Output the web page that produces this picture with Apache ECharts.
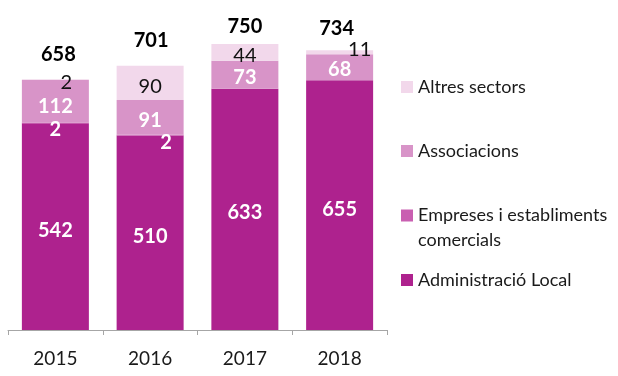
<!DOCTYPE html>
<html>
<head>
<meta charset="utf-8">
<script src="https://cdn.jsdelivr.net/npm/echarts@6/dist/echarts.min.js"></script>
<style>
  html, body { margin: 0; padding: 0; background: #fff; }
  #chart { width: 618px; height: 376px; }
</style>
</head>
<body>
<div id="chart"></div>
<script>
// Years on the category axis
const years = ['2015', '2016', '2017', '2018'];

// Values per sector
const administracioLocal = [542, 510, 633, 655];
const empreses = [2, 2, null, null];
const associacions = [112, 91, 73, 68];
const altresSectors = [2, 90, 44, 11];

// Totals printed above each column
const totals = [658, 701, 750, 734];

// Series names
const names = {
  admin: 'Administració Local',
  empreses: 'Empreses i establiments comercials',
  assoc: 'Associacions',
  altres: 'Altres sectors'
};

// Label nudges per column (layout only)
const offAdmin = [[0, 4], [0, 4], [0, 3], [0, 4]];
const offEmpreses = [[0, 7], [16, 7], [0, 0], [0, 0]];
const offAssoc = [[0, 5], [0, 3], [0, 3], [0, 2]];
const offAltres = [[11, 3], [0, 4], [0, 3], [20, -3]];
const offTotals = [[3, -5], [1, -2], [0, 2], [-3, -2]];

const FONT = 'Lato, "Open Sans", sans-serif';

function items(values, offsets) {
  return values.map((v, i) => ({ value: v, label: { offset: offsets[i] } }));
}

const chart = echarts.init(document.getElementById('chart'), null, { renderer: 'canvas' });

const barCommon = {
  type: 'bar',
  stack: 'total',
  barWidth: 67,
  emphasis: { disabled: true }
};

function legendFor(name, top, extraText) {
  return {
    data: [name],
    left: 401,
    top: top,
    orient: 'vertical',
    padding: 0,
    icon: 'rect',
    itemWidth: 12,
    itemHeight: 12,
    selectedMode: false,
    textStyle: Object.assign({ fontSize: 18, color: '#1a1a1a', fontFamily: FONT }, extraText || {})
  };
}

chart.setOption({
  animation: false,
  grid: { left: 8, right: 231, top: 25, bottom: 46, containLabel: false },
  xAxis: {
    type: 'category',
    data: years,
    axisLine: { lineStyle: { color: '#a6a6a6', width: 1 } },
    axisTick: { show: true, length: 5, lineStyle: { color: '#a6a6a6' } },
    axisLabel: { fontSize: 19, color: '#1a1a1a', fontFamily: FONT, margin: 19 }
  },
  yAxis: {
    type: 'value', min: 0, max: 800, show: false,
    splitLine: { show: false }
  },
  legend: [
    legendFor(names.altres, 78),
    legendFor(names.assoc, 142),
    // leading blank line keeps the first text line level with the swatch
    Object.assign(legendFor(names.empreses, 178, { lineHeight: 25 }), {
      formatter: () => ' \nEmpreses i establiments\ncomercials'
    }),
    legendFor(names.admin, 271)
  ],
  series: [
    Object.assign({}, barCommon, {
      name: names.admin,
      data: items(administracioLocal, offAdmin),
      itemStyle: { color: '#ae228e' },
      label: { show: true, position: 'inside', color: '#fff', fontWeight: 'bold', fontSize: 20, fontFamily: FONT }
    }),
    Object.assign({}, barCommon, {
      name: names.empreses,
      data: items(empreses, offEmpreses),
      itemStyle: { color: '#c95fb1' },
      label: { show: true, position: 'inside', color: '#fff', fontWeight: 'bold', fontSize: 20, fontFamily: FONT,
        formatter: p => (p.value == null ? '' : p.value) }
    }),
    Object.assign({}, barCommon, {
      name: names.assoc,
      data: items(associacions, offAssoc),
      itemStyle: { color: '#d894c8' },
      label: { show: true, position: 'inside', color: '#fff', fontWeight: 'bold', fontSize: 20, fontFamily: FONT }
    }),
    Object.assign({}, barCommon, {
      name: names.altres,
      data: items(altresSectors, offAltres),
      itemStyle: { color: '#f2d8eb' },
      label: { show: true, position: 'inside', color: '#111', fontSize: 20, fontFamily: FONT }
    }),
    {
      // invisible column at the full height, carrying the total above each stack
      name: 'Total',
      type: 'bar',
      barWidth: 67,
      barGap: '-100%',
      data: items(totals, offTotals),
      itemStyle: { color: 'rgba(255,255,255,0)' },
      emphasis: { disabled: true },
      silent: true,
      z: 1,
      label: { show: true, position: 'top', distance: 10, color: '#000', fontWeight: 'bold', fontSize: 20, fontFamily: FONT }
    }
  ]
});
</script>
</body>
</html>
